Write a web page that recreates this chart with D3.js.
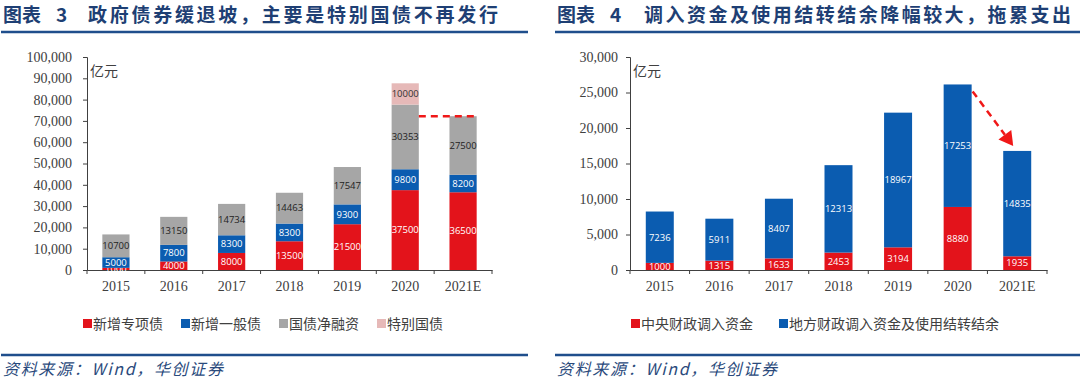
<!DOCTYPE html>
<html>
<head>
<meta charset="utf-8">
<script src="https://cdn.jsdelivr.net/npm/d3@7"></script>
<style>
  body { margin: 0; background: #fff; }
  svg { display: block; }
</style>
</head>
<body>
<svg id="chart" width="1080" height="380"></svg>
<script>
// Years shared by both panels
const years = ["2015", "2016", "2017", "2018", "2019", "2020", "2021E"];

// Panel 1: government bonds (亿元)
const specialBond = [1000, 4000, 8000, 13500, 21500, 37500, 36500];
const generalBond = [5000, 7800, 8300, 8300, 9300, 9800, 8200];
const treasuryNet = [10700, 13150, 14734, 14463, 17547, 30353, 27500];
const specialTreasury = [0, 0, 0, 0, 0, 10000, 0];
const leftTicks = [0, 10000, 20000, 30000, 40000, 50000, 60000, 70000, 80000, 90000, 100000];

// Panel 2: transferred-in funds (亿元)
const centralFunds = [1000, 1315, 1633, 2453, 3194, 8880, 1935];
const localFunds = [7236, 5911, 8407, 12313, 18967, 17253, 14835];
const rightTicks = [0, 5000, 10000, 15000, 20000, 25000, 30000];

const RED = "#e3131b", BLUE = "#0b5cb0", GRAY = "#a6a6a6", PINK = "#e6b9b8";
const NAVY = "#1e3f74";
const svg = d3.select("#chart");
const fmt = d3.format(",");

function title(x, label, num, text, mainX, mainLen) {
    const f = "'Noto Sans CJK SC', sans-serif";
    svg.append("text").attr("x", x).attr("y", 22)
        .attr("font-family", f).attr("font-weight", "bold")
        .attr("font-size", 19).attr("fill", NAVY).text(label);
    svg.append("text").attr("x", x + 53).attr("y", 22)
        .attr("font-family", f).attr("font-weight", "bold")
        .attr("font-size", 19).attr("fill", NAVY).text(num);
    svg.append("text").attr("x", mainX).attr("y", 22)
        .attr("font-family", f).attr("font-weight", "bold")
        .attr("font-size", 19).attr("fill", NAVY)
        .attr("textLength", mainLen).attr("lengthAdjust", "spacing").text(text);
}

function frame(x0, x1) {
    svg.append("line").attr("x1", x0).attr("x2", x1).attr("y1", 32).attr("y2", 32)
        .attr("stroke", "#1f4e8c").attr("stroke-width", 2.5);
    svg.append("line").attr("x1", x0).attr("x2", x1).attr("y1", 355).attr("y2", 355)
        .attr("stroke", "#1f4e8c").attr("stroke-width", 2.5);
    svg.append("text").attr("x", x0 + 2).attr("y", 375)
        .attr("font-family", "'Noto Sans CJK SC', sans-serif").attr("font-style", "italic")
        .attr("font-size", 16).attr("fill", "#2a4a7c")
        .attr("textLength", 220).attr("lengthAdjust", "spacing")
        .text("资料来源：Wind，华创证券");
}

function panel(opts) {
    const x = d3.scaleBand().domain(years).range([opts.x0, opts.x1])
        .paddingInner(0.53).paddingOuter(0.265);
    const y = d3.scaleLinear().domain([0, opts.max]).range([270, 57]);
    const g = svg.append("g");

    // y axis
    const ya = g.append("g").attr("transform", `translate(${opts.x0},0)`)
        .call(d3.axisLeft(y).tickValues(opts.ticks).tickFormat(fmt).tickSize(4).tickPadding(opts.pad));
    ya.select(".domain").attr("stroke", "#404040");
    ya.selectAll(".tick line").attr("stroke", "#404040");
    ya.selectAll("text").attr("font-family", "'Liberation Serif', serif")
        .attr("font-size", 14).attr("fill", "#404040");

    // x axis (labels centred, tick marks at band borders)
    const xa = g.append("g").attr("transform", "translate(0,270)")
        .call(d3.axisBottom(x).tickSize(0).tickPadding(11));
    xa.select(".domain").attr("stroke", "#404040");
    xa.selectAll("text").attr("font-family", "'Liberation Serif', serif")
        .attr("font-size", 14).attr("fill", "#404040");
    const step = x.step();
    g.selectAll(".xb").data(d3.range(years.length + 1)).enter().append("line")
        .attr("x1", i => opts.x0 + i * step).attr("x2", i => opts.x0 + i * step)
        .attr("y1", 270).attr("y2", 274).attr("stroke", "#404040");

    g.append("text").attr("x", opts.x0 + 3).attr("y", 76)
        .attr("font-family", "'Noto Sans CJK SC', sans-serif").attr("font-size", 14)
        .attr("fill", "#404040").text("亿元");

    // stacked bars
    const rows = years.map((yr, i) => {
        const r = { year: yr };
        opts.series.forEach(s => r[s.key] = s.values[i]);
        return r;
    });
    const stacked = d3.stack().keys(opts.series.map(s => s.key))(rows);
    stacked.forEach((layer, li) => {
        const s = opts.series[li];
        const lg = g.append("g");
        lg.selectAll("rect").data(layer.filter(d => d[1] > d[0])).enter().append("rect")
            .attr("x", d => x(d.data.year)).attr("width", x.bandwidth())
            .attr("y", d => y(d[1])).attr("height", d => y(d[0]) - y(d[1]))
            .attr("fill", s.color);
        lg.selectAll("text").data(layer.filter(d => d[1] > d[0])).enter().append("text")
            .attr("x", d => x(d.data.year) + x.bandwidth() / 2)
            .attr("y", d => (y(d[0]) + y(d[1])) / 2).attr("dy", "0.35em")
            .attr("text-anchor", "middle").attr("font-family", "'Open Sans', sans-serif")
            .attr("font-size", 9.5).attr("fill", s.textColor)
            .text(d => d[1] - d[0]);
    });

    // legend
    let lx = opts.legendX;
    opts.series.forEach(s => {
        g.append("rect").attr("x", lx).attr("y", 319).attr("width", 9).attr("height", 9)
            .attr("fill", s.color);
        const t = g.append("text").attr("x", lx + 10).attr("y", 329)
            .attr("font-family", "'Noto Sans CJK SC', sans-serif").attr("font-size", 14)
            .attr("fill", "#404040").text(s.key);
        lx += t.node().getComputedTextLength() + 10 + opts.legendGap;
    });

    return { x, y, g };
}

// ---- Left panel ----
title(3, "图表", "3", "政府债券缓退坡，主要是特别国债不再发行", 88, 410);
frame(1, 528);
const L = panel({
    x0: 87, x1: 492, max: 100000, ticks: leftTicks, pad: 11, legendX: 83, legendGap: 18,
    series: [
        { key: "新增专项债", values: specialBond, color: RED, textColor: "#fff" },
        { key: "新增一般债", values: generalBond, color: BLUE, textColor: "#fff" },
        { key: "国债净融资", values: treasuryNet, color: GRAY, textColor: "#222" },
        { key: "特别国债", values: specialTreasury, color: PINK, textColor: "#333" }
    ]
});
// dashed level line from 2020 to 2021E total
const tot21 = specialBond[6] + generalBond[6] + treasuryNet[6] + specialTreasury[6];
L.g.append("line")
    .attr("x1", L.x("2020") + L.x.bandwidth()).attr("x2", L.x("2021E") + L.x.bandwidth())
    .attr("y1", L.y(tot21)).attr("y2", L.y(tot21))
    .attr("stroke", "#f01818").attr("stroke-width", 2.5).attr("stroke-dasharray", "7,5");

// ---- Right panel ----
title(557, "图表", "4", "调入资金及使用结转结余降幅较大，拖累支出", 644, 427);
frame(555, 1080);
const R = panel({
    x0: 630, x1: 1047, max: 30000, ticks: rightTicks, pad: 8, legendX: 631, legendGap: 26,
    series: [
        { key: "中央财政调入资金", values: centralFunds, color: RED, textColor: "#fff" },
        { key: "地方财政调入资金及使用结转结余", values: localFunds, color: BLUE, textColor: "#fff" }
    ]
});
// dashed arrow 2020 -> 2021E
const t20 = centralFunds[5] + localFunds[5], t21 = centralFunds[6] + localFunds[6];
const ax0 = R.x("2020") + R.x.bandwidth() + 1, ay0 = R.y(t20) + 7;
const ax1 = R.x("2021E") + R.x.bandwidth() / 2 - 4, ay1 = R.y(t21) - 5;
const ang = Math.atan2(ay1 - ay0, ax1 - ax0);
const headL = 14, headW = 8;
const bx = ax1 - headL * Math.cos(ang), by = ay1 - headL * Math.sin(ang);
R.g.append("line").attr("x1", ax0).attr("y1", ay0).attr("x2", bx).attr("y2", by)
    .attr("stroke", "#f01818").attr("stroke-width", 2.5).attr("stroke-dasharray", "7,5");
R.g.append("path")
    .attr("d", d3.line()([
        [ax1, ay1],
        [bx + headW * Math.sin(ang), by - headW * Math.cos(ang)],
        [bx - headW * Math.sin(ang), by + headW * Math.cos(ang)]
    ]) + "Z")
    .attr("fill", "#f01818");
</script>
</body>
</html>
